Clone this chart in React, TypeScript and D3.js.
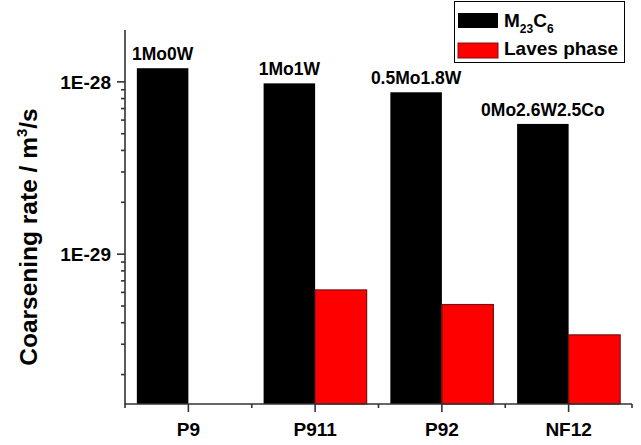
import { useEffect, useRef } from "react";
import * as d3 from "d3";

const categories = ["P9", "P911", "P92", "NF12"];
const compositions = ["1Mo0W", "1Mo1W", "0.5Mo1.8W", "0Mo2.6W2.5Co"];
const m23c6Rates = [1.2e-28, 9.8e-29, 8.7e-29, 5.7e-29];
const lavesRates: (number | null)[] = [null, 6.2e-30, 5.1e-30, 3.4e-30];
const yMajorTicks = [1e-28, 1e-29];
const yTickLabels = ["1E-28", "1E-29"];
const yDomain = [1.35e-30, 2e-28];

const FONT = "'Liberation Sans', Arial, sans-serif";

export default function App() {
  const ref = useRef<SVGSVGElement | null>(null);

  useEffect(() => {
    document.body.style.margin = "0";
    const width = 641;
    const height = 445;
    const left = 125, right = 632, top = 30, bottom = 404;

    const svg = d3.select(ref.current).attr("width", width).attr("height", height);
    svg.selectAll("*").remove();

    /* -------- scales -------- */
    const x = d3.scaleBand<string>().domain(categories).range([left, right]).paddingInner(0.187).paddingOuter(0.0935);
    const step = x.step();
    const y = d3.scaleLog().domain(yDomain).range([bottom, top]);

    const minorTicks = y.ticks().filter((t) => !yMajorTicks.some((m) => Math.abs(m - t) / m < 1e-6));

    /* -------- bars -------- */
    const bw = x.bandwidth() / 2;
    const g = svg.append("g");
    g.selectAll("rect.m23")
      .data(m23c6Rates)
      .join("rect")
      .attr("x", (_, i) => x(categories[i])!)
      .attr("y", (d) => y(d))
      .attr("width", bw)
      .attr("height", (d) => bottom - y(d))
      .attr("fill", "#000");

    g.selectAll("rect.laves")
      .data(lavesRates.map((v, i) => ({ v, i })).filter((d) => d.v != null))
      .join("rect")
      .attr("x", (d) => x(categories[d.i])! + bw)
      .attr("y", (d) => y(d.v as number))
      .attr("width", bw)
      .attr("height", (d) => bottom - y(d.v as number))
      .attr("fill", "#ff0000")
      .attr("stroke", "#7a1010")
      .attr("stroke-width", 1.2);

    // composition labels above the black bars
    g.selectAll("text.comp")
      .data(compositions)
      .join("text")
      .attr("x", (_, i) => x(categories[i])! + bw / 2)
      .attr("y", (_, i) => y(m23c6Rates[i]) - 8)
      .attr("text-anchor", "middle")
      .attr("font-family", FONT)
      .attr("font-weight", "bold")
      .attr("font-size", 17.5)
      .text((d) => d);

    /* -------- axes -------- */
    const axisColor = "#333";
    const ax = svg.append("g").attr("stroke", axisColor).attr("stroke-width", 1.6);
    ax.append("line").attr("x1", left).attr("x2", left).attr("y1", top).attr("y2", bottom + 0.8);
    ax.append("line").attr("x1", left).attr("x2", right).attr("y1", bottom).attr("y2", bottom);

    // y ticks
    ax.selectAll("line.ymaj")
      .data(yMajorTicks)
      .join("line")
      .attr("x1", left - 8).attr("x2", left)
      .attr("y1", (d) => y(d)).attr("y2", (d) => y(d));
    ax.selectAll("line.ymin")
      .data(minorTicks)
      .join("line")
      .attr("x1", left - 4).attr("x2", left)
      .attr("y1", (d) => y(d)).attr("y2", (d) => y(d));

    svg.selectAll("text.ylab")
      .data(yMajorTicks)
      .join("text")
      .attr("x", left - 14)
      .attr("y", (d) => y(d))
      .attr("dy", "0.36em")
      .attr("text-anchor", "end")
      .attr("font-family", FONT)
      .attr("font-weight", "bold")
      .attr("font-size", 19)
      .text((_, i) => yTickLabels[i]);

    // x ticks
    ax.selectAll("line.xmaj")
      .data(categories)
      .join("line")
      .attr("x1", (d) => x(d)! + x.bandwidth() / 2)
      .attr("x2", (d) => x(d)! + x.bandwidth() / 2)
      .attr("y1", bottom).attr("y2", bottom + 8);
    ax.selectAll("line.xmin")
      .data(d3.range(categories.length + 1))
      .join("line")
      .attr("x1", (i) => left + i * step)
      .attr("x2", (i) => left + i * step)
      .attr("y1", bottom).attr("y2", bottom + 4);

    svg.selectAll("text.xlab")
      .data(categories)
      .join("text")
      .attr("x", (d) => x(d)! + x.bandwidth() / 2)
      .attr("y", 436)
      .attr("text-anchor", "middle")
      .attr("font-family", FONT)
      .attr("font-weight", "bold")
      .attr("font-size", 19)
      .text((d) => d);

    // y title
    const title = svg.append("text")
      .attr("transform", `translate(37,${(top + bottom) / 2 + 20}) rotate(-90)`)
      .attr("text-anchor", "middle")
      .attr("font-family", FONT)
      .attr("font-weight", "bold")
      .attr("font-size", 24.5);
    title.append("tspan").text("Coarsening rate / m");
    title.append("tspan").attr("font-size", 15).attr("dy", -10).text("3");
    title.append("tspan").attr("dy", 10).text("/s");

    /* -------- legend -------- */
    const lg = svg.append("g").attr("font-family", FONT).attr("font-weight", "bold");
    lg.append("rect").attr("x", 454.5).attr("y", 1.5).attr("width", 170).attr("height", 61)
      .attr("fill", "#fff").attr("stroke", "#000").attr("stroke-width", 1);
    lg.append("rect").attr("x", 458).attr("y", 13).attr("width", 40).attr("height", 15).attr("fill", "#000");
    lg.append("rect").attr("x", 458).attr("y", 43).attr("width", 40).attr("height", 15)
      .attr("fill", "#ff0000").attr("stroke", "#7a1010").attr("stroke-width", 1);
    const t1 = lg.append("text").attr("x", 504).attr("y", 27).attr("font-size", 19);
    t1.append("tspan").text("M");
    t1.append("tspan").attr("font-size", 12).attr("dy", 6).text("23");
    t1.append("tspan").attr("dy", -6).text("C");
    t1.append("tspan").attr("font-size", 12).attr("dy", 6).text("6");
    lg.append("text").attr("x", 504).attr("y", 55).attr("font-size", 19).text("Laves phase");
  }, []);

  return <svg ref={ref} style={{ display: "block" }} />;
}
